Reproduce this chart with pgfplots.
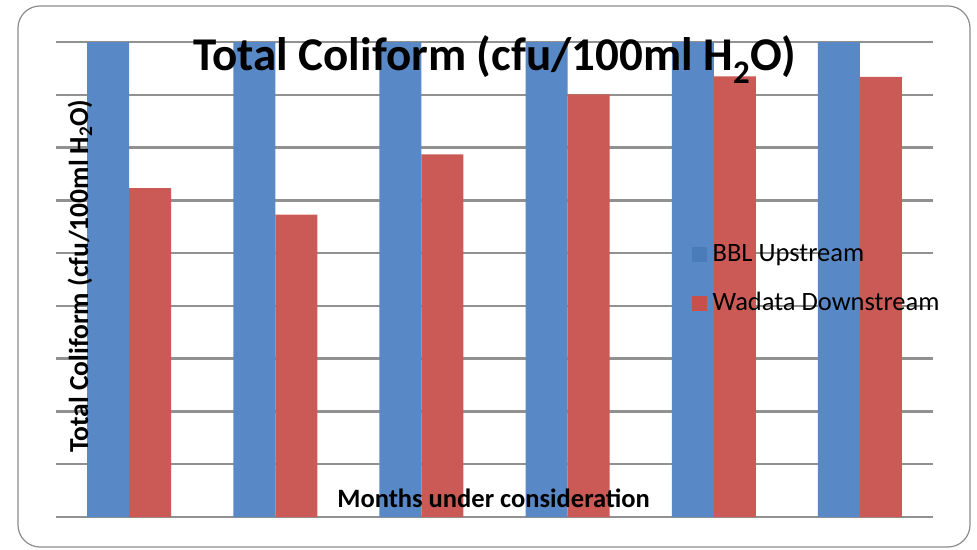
\documentclass[border=0pt]{standalone}
\usepackage{fontspec}
\setmainfont{Carlito}
\usepackage{pgfplots}
\pgfplotsset{compat=1.18}

\definecolor{barblue}{RGB}{88,137,198}
\definecolor{barred}{RGB}{203,90,86}
\definecolor{keyblue}{RGB}{74,124,185}
\definecolor{keyred}{RGB}{199,80,77}
\definecolor{gridgray}{RGB}{145,145,145}
\definecolor{framegray}{RGB}{140,140,140}

\begin{document}
\begin{tikzpicture}
\useasboundingbox (-56pt,-32pt) rectangle (921pt,517pt);
\draw[framegray, line width=1.2pt, rounded corners=22pt] (-38pt,-30pt) rectangle (914pt,511pt);
\begin{axis}[
  at={(0pt,0pt)}, anchor=south west,
  width=877pt, height=475pt, scale only axis,
  xmin=-0.5, xmax=5.5, ymin=0, ymax=9,
  ybar=0pt, bar width=42pt,
  xtick=\empty, ytick={0,...,9}, yticklabels={},
  ymajorgrids, major grid style={gridgray, line width=2.4pt},
  axis line style={draw=none}, tick style={draw=none},
  title={Total Coliform (cfu/100ml H\textsubscript{2}O)},
  title style={at={(axis description cs:0.5,0.928)}, anchor=base,
    font=\fontsize{47}{51}\selectfont\bfseries},
  xlabel={Months under consideration},
  xlabel style={at={(axis description cs:0.499,0.021)}, anchor=base,
    font=\fontsize{26.5}{30}\selectfont\bfseries},
  ylabel={Total Coliform (cfu/100ml H\textsubscript{2}O)},
  ylabel style={at={(axis description cs:0.0365,0.507)}, anchor=base,
    font=\fontsize{27.5}{31}\selectfont\bfseries},
  legend image code/.code={\fill[#1] (0pt,-7pt) rectangle (14pt,7pt);},
  legend cell align=left,
  legend style={draw=none, fill=none, inner sep=0pt,
    at={(axis description cs:0.7252,0.501)}, anchor=west,
    row sep=34.5pt, font=\fontsize{26.5}{30}\selectfont,
    nodes={inner sep=0pt, text height=14pt, text depth=0pt},
    /tikz/every odd column/.append style={column sep=6pt}},
]
\addlegendimage{keyblue}
\addlegendimage{keyred}
\legend{BBL Upstream, Wadata Downstream}

% upstream site (exceeds the plotted range in every month)
\addplot[fill=barblue, draw=none, bar shift=-21pt]
  coordinates {(0,10) (1,10) (2,10) (3,10) (4,10) (5,10)};
% downstream site
\addplot[fill=barred, draw=none, bar shift=21pt]
  coordinates {(0,6.23) (1,5.73) (2,6.87) (3,8.01) (4,8.35) (5,8.34)};
\end{axis}
\end{tikzpicture}
\end{document}
